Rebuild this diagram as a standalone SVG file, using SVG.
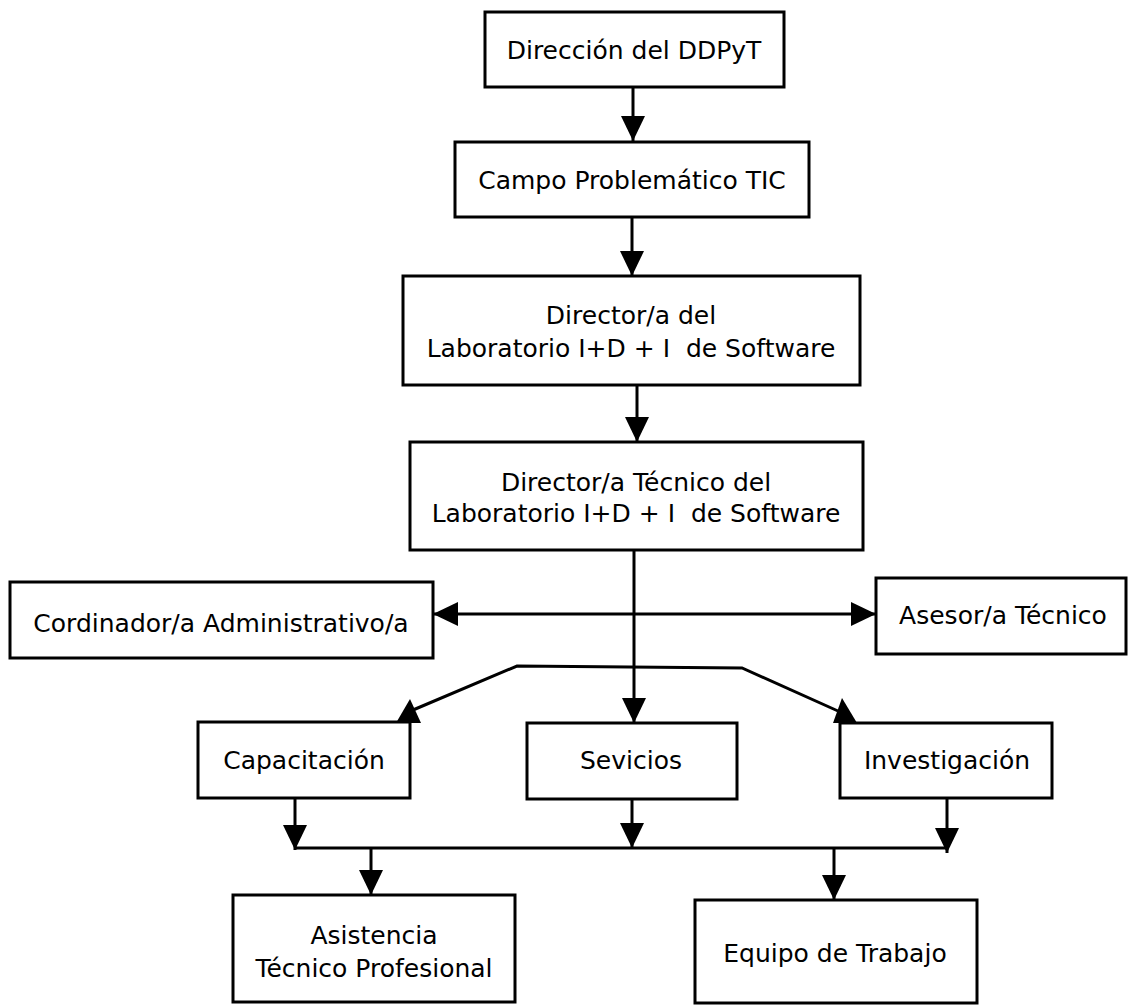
<svg xmlns="http://www.w3.org/2000/svg" width="1128" height="1005" viewBox="0 0 1128 1005">
<style>
.box{fill:#fff;stroke:#000;stroke-width:3}
.lbl{font-family:"DejaVu Sans","Liberation Sans",sans-serif;font-size:25px;fill:#000;text-anchor:middle}
.ln{fill:none;stroke:#000;stroke-width:3}
.arr{marker-end:url(#ah)}
</style>
<defs>
<marker id="ah" markerUnits="userSpaceOnUse" markerWidth="25" markerHeight="24" refX="25" refY="12" orient="auto-start-reverse" viewBox="0 0 25 24">
<path d="M0,0 L25,12 L0,24 z" fill="#000"/>
</marker>
</defs>
<rect width="1128" height="1005" fill="#fff"/>
<g id="connectors">
<line class="ln arr" x1="633" y1="87" x2="633" y2="141"/>
<line class="ln arr" x1="632" y1="217" x2="632" y2="276"/>
<line class="ln arr" x1="637" y1="385" x2="637" y2="442"/>
<line class="ln arr" x1="634" y1="550" x2="634" y2="723"/>
<line class="ln" x1="433" y1="614" x2="876" y2="614" marker-start="url(#ah)" marker-end="url(#ah)"/>
<polyline class="ln" points="413,710 517,666 742,668 838,711"/>
<polygon points="396,723 410,699 421,723" fill="#000"/>
<polygon points="833,723 842,698 857,723" fill="#000"/>
<line class="ln arr" x1="295" y1="798" x2="295" y2="850"/>
<line class="ln arr" x1="632" y1="799" x2="632" y2="848"/>
<line class="ln arr" x1="947" y1="798" x2="947" y2="853"/>
<line class="ln" x1="295" y1="848" x2="947" y2="848"/>
<line class="ln arr" x1="371" y1="848" x2="371" y2="895"/>
<line class="ln arr" x1="834" y1="848" x2="834" y2="900"/>
</g>
<g id="n1"><rect class="box" x="485" y="12" width="299" height="75"/><text class="lbl" x="634" y="59">Dirección del DDPyT</text></g>
<g id="n2"><rect class="box" x="455" y="142" width="354" height="75"/><text class="lbl" x="632" y="189">Campo Problemático TIC</text></g>
<g id="n3"><rect class="box" x="403" y="276" width="457" height="109"/><text class="lbl" x="631" y="324">Director/a del</text><text class="lbl" x="631" y="357" xml:space="preserve">Laboratorio I+D + I  de Software</text></g>
<g id="n4"><rect class="box" x="410" y="442" width="453" height="108"/><text class="lbl" x="636" y="491">Director/a Técnico del</text><text class="lbl" x="636" y="522" xml:space="preserve">Laboratorio I+D + I  de Software</text></g>
<g id="n5"><rect class="box" x="10" y="582" width="423" height="76"/><text class="lbl" x="221" y="632">Cordinador/a Administrativo/a</text></g>
<g id="n6"><rect class="box" x="876" y="578" width="250" height="76"/><text class="lbl" x="1003" y="624">Asesor/a Técnico</text></g>
<g id="n7"><rect class="box" x="198" y="722" width="212" height="76"/><text class="lbl" x="304" y="769">Capacitación</text></g>
<g id="n8"><rect class="box" x="527" y="723" width="210" height="76"/><text class="lbl" x="631" y="769">Sevicios</text></g>
<g id="n9"><rect class="box" x="840" y="723" width="212" height="75"/><text class="lbl" x="947" y="769">Investigación</text></g>
<g id="n10"><rect class="box" x="233" y="895" width="282" height="107"/><text class="lbl" x="374" y="944">Asistencia</text><text class="lbl" x="374" y="977">Técnico Profesional</text></g>
<g id="n11"><rect class="box" x="695" y="900" width="282" height="103"/><text class="lbl" x="835" y="962">Equipo de Trabajo</text></g>
</svg>
